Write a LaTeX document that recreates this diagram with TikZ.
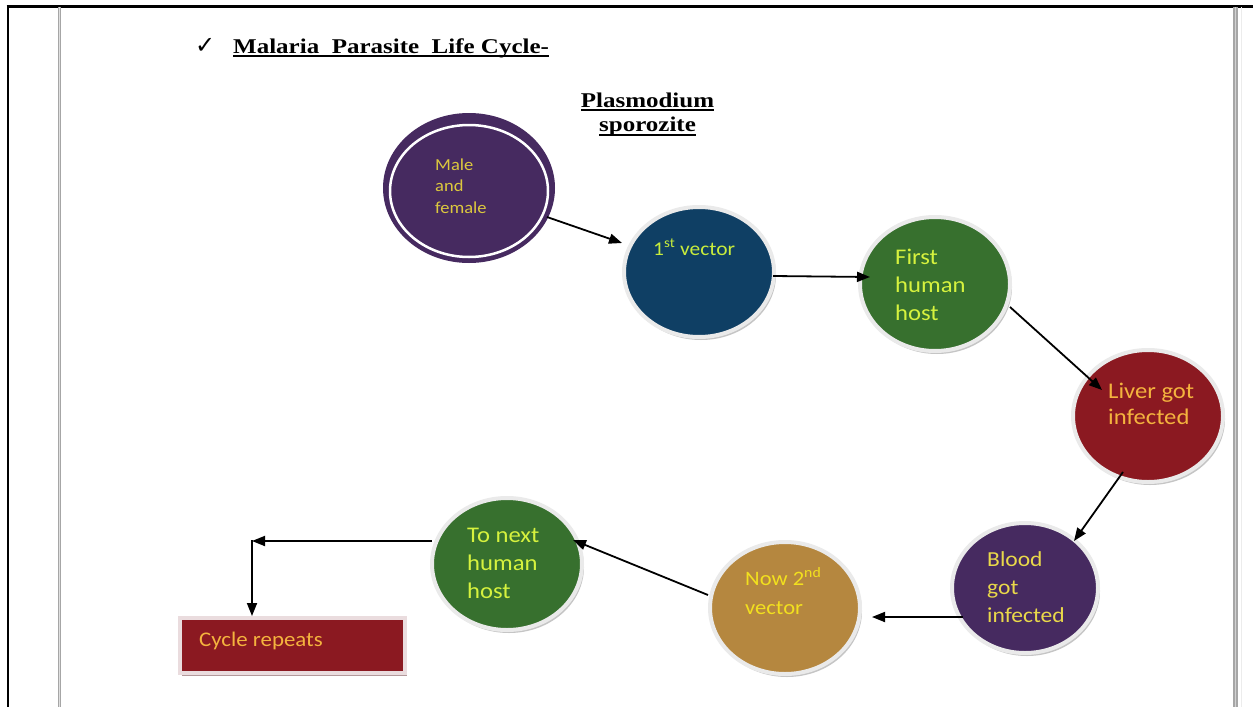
\documentclass[tikz,border=0pt]{standalone}
\usepackage{fontspec}
\setmainfont{Carlito}
\newfontfamily\tnr{Liberation Serif}
\newfontfamily\djv{DejaVu Sans}
\usetikzlibrary{arrows.meta,shapes.geometric,shadows}
\definecolor{cpurple}{HTML}{462A60}
\definecolor{cblue}{HTML}{0F3F64}
\definecolor{cgreen}{HTML}{37702E}
\definecolor{cred}{HTML}{8B1921}
\definecolor{ctan}{HTML}{B5873F}
\definecolor{cring}{HTML}{EAEAEA}
\definecolor{crectring}{HTML}{EADCDE}
\definecolor{tmustard}{HTML}{DCC83E}
\definecolor{tlime}{HTML}{C8EC3C}
\definecolor{tlime2}{HTML}{D6F23E}
\definecolor{torange}{HTML}{F4B33E}
\definecolor{tyellow}{HTML}{E9D84A}
\definecolor{tyellow2}{HTML}{F2E01E}
\newcommand\myul[1]{\setbox0=\hbox{#1}\rlap{\rule[-4pt]{\wd0}{2pt}}\box0}
\newcommand\ttab[1]{\scalebox{1.1}[1]{\begin{tabular}[t]{@{}l@{}}#1\end{tabular}}}
\begin{document}
\begin{tikzpicture}[x=1pt,y=-1pt,
  circ/.style={ellipse, inner sep=0pt, draw=cring, line width=4pt,
    drop shadow={shadow xshift=2pt, shadow yshift=-3pt, fill=gray!75, opacity=.6}},
  dims/.style n args={2}{minimum width=#1, minimum height=#2},
  lbl/.style={anchor=base west, inner sep=0pt},
  arr/.style={-{Triangle[length=13pt,width=10pt]}, line width=1.8pt, black}]
\useasboundingbox (0,0) rectangle (1253,707);
\fill[white] (0,0) rectangle (1253,707);
% page frame
\draw[black, line width=3pt] (6.5,6) -- (1253,6);
\draw[black, line width=2pt] (7.5,5) -- (7.5,707);
\draw[gray!70, line width=3.5pt] (59.5,7) -- (59.5,707);
\draw[gray!25, line width=1pt] (59.5,7) -- (59.5,707);
\draw[gray!70, line width=4.5pt] (1235.5,7) -- (1235.5,707);
\draw[gray!35, line width=1pt] (1235.5,7) -- (1235.5,707);
\draw[gray!15, line width=1pt] (1241,7) -- (1241,707);
% titles
\node[lbl, font=\djv\fontsize{24}{26}\selectfont] (chk) at (195,53) {✓};
\node[lbl, font=\tnr\bfseries\fontsize{21}{24}\selectfont] (title) at (233,53)
  {\scalebox{1.19}[1]{\myul{Malaria\ \ Parasite\ \ Life Cycle-}}};
\node[anchor=base, inner sep=0pt, font=\tnr\bfseries\fontsize{21}{24.5}\selectfont] (plas) at (647.5,107)
  {\scalebox{1.19}[1]{\begin{tabular}[t]{@{}c@{}}\myul{Plasmodium}\\\myul{sporozite}\end{tabular}}};
% circles
\node[ellipse, inner sep=0pt, fill=cpurple, dims={172}{150}] (m) at (469,188) {};
\draw[white, line width=2.5pt] ([shift={(0,3)}]m.center) ellipse [x radius=79, y radius=66];
\node[circ, fill=cblue, dims={150}{130}] (v1) at (699,272) {};
\node[circ, fill=cgreen, dims={150}{134}] (h1) at (935,284) {};
\node[circ, fill=cred, dims={150}{132}] (liv) at (1148,416) {};
\node[circ, fill=cpurple, dims={146}{130}] (bl) at (1025,588) {};
\node[circ, fill=ctan, dims={150}{132}] (v2) at (785,608) {};
\node[circ, fill=cgreen, dims={150}{132}] (nx) at (507,564) {};
\node[rectangle, inner sep=0pt, fill=cred, draw=crectring, line width=4pt, dims={225}{55},
  drop shadow={shadow xshift=2pt, shadow yshift=-3pt, fill=black!45!cred!60, opacity=.7}] (cyc) at (292.5,645.5) {};
% texts
\node[lbl, text=tmustard, font=\fontsize{16.8}{21.5}\selectfont] (mt) at (435,170) {\ttab{Male\\and\\female}};
\node[lbl, text=tlime, font=\fontsize{19.5}{24}\selectfont] (v1t) at (653,255) {\ttab{1\textsuperscript{st} vector}};
\node[lbl, text=tlime2, font=\fontsize{22.4}{28}\selectfont] (h1t) at (895,264) {\ttab{First\\human\\host}};
\node[lbl, text=torange, font=\fontsize{22.4}{26.5}\selectfont] (livt) at (1108,398) {\ttab{Liver got\\infected}};
\node[lbl, text=tyellow, font=\fontsize{21.4}{28}\selectfont] (blt) at (987,566) {\ttab{Blood\\got\\infected}};
\node[lbl, text=tyellow2, font=\fontsize{20.5}{29}\selectfont] (v2t) at (745,585) {\ttab{Now 2\textsuperscript{nd}\\vector}};
\node[lbl, text=tlime2, font=\fontsize{22.4}{28}\selectfont] (nxt) at (467,542) {\ttab{To next\\human\\host}};
\node[lbl, text=torange, font=\fontsize{20.8}{24}\selectfont] (cyct) at (199,646) {\ttab{Cycle repeats}};
% connectors
\coordinate (corner) at (252,541);
\draw[arr] ([shift={(78,29)}]m.center) -- ([shift={(-77,-29)}]v1.center);
\draw[arr] ([shift={(74,4)}]v1.center) -- ([shift={(-65,-7)}]h1.center);
\draw[arr] ([shift={(75,23)}]h1.center) -- ([shift={(-46,-26)}]liv.center);
\draw[arr] ([shift={(-25,56)}]liv.center) -- ([shift={(49,-47)}]bl.center);
\draw[arr] ([shift={(-62,29)}]bl.center) -- ([shift={(87,9)}]v2.center);
\draw[arr] ([shift={(-77,-13)}]v2.center) -- ([shift={(66,-24)}]nx.center);
\draw[arr] ([shift={(-75,-23)}]nx.center) -- (corner);
\draw[arr] ([shift={(0,-0.9)}]corner) -- (corner |- cyc.north);
\end{tikzpicture}
\end{document}
